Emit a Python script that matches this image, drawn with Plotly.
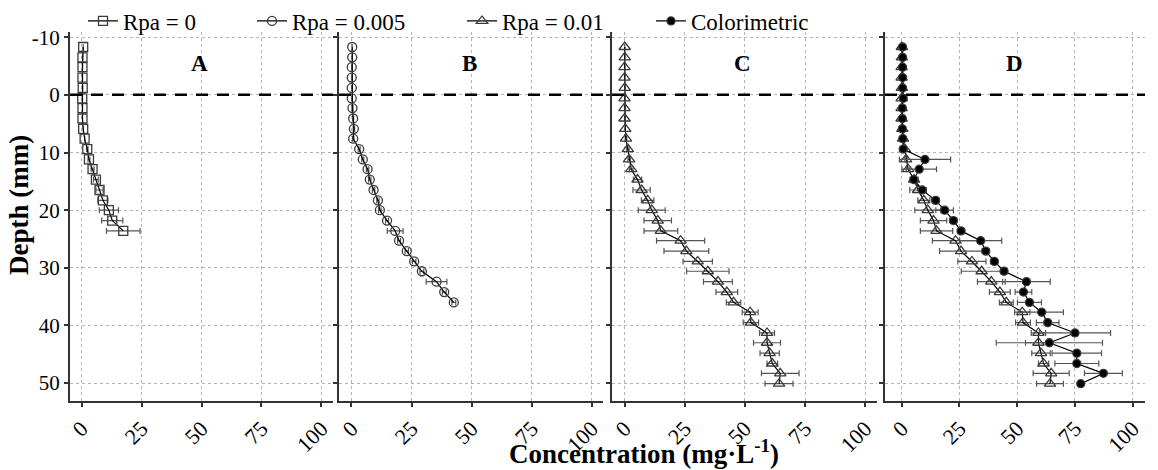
import plotly.graph_objects as go

# ---------------- data ----------------
depth_mm = [-8.3, -6.5, -4.8, -3.0, -1.2, 0.6, 2.3, 4.1, 5.9, 7.6, 9.4, 11.2, 12.9,
            14.7, 16.5, 18.3, 20.0, 21.8, 23.6, 25.3, 27.1, 28.9, 30.6, 32.4, 34.2,
            36.0, 37.7, 39.5, 41.3, 43.0, 44.8, 46.6, 48.3, 50.1]

rpa_0 = [0.7, 0.4, 0.4, 0.4, 0.5, 0.3, 0.4, 0.4, 0.7, 1.3, 2.4, 3.1, 4.6, 6.0, 7.5,
         8.9, 11.4, 12.8, 17.4]
rpa_0_err = [0, 0, 0, 0, 0, 0, 0, 0, 0, 0, 0.3, 0.4, 0.6, 1.0, 1.5, 2.1, 4.0, 4.4, 7.0]

rpa_0005 = [0.3, 0.3, 0.1, 0.1, 0.1, 0.1, 0.4, 0.7, 1.0, 0.7, 3.2, 4.7, 6.7, 7.6, 9.2,
            11.0, 11.8, 14.8, 18.2, 19.8, 23.0, 26.1, 29.3, 35.4, 38.6, 42.6]
rpa_0005_err = [0, 0, 0, 0, 0, 0, 0.2, 0.2, 0.3, 0.3, 0.4, 0.4, 0.5, 0.5, 0.5, 0.5,
                0.5, 0.6, 3.3, 0.6, 0.7, 0.7, 0.8, 4.3, 0.8, 0.8]

rpa_001 = [0.1, 0.1, 0.0, 0.0, 0.1, 0.0, 0.0, 0.0, 0.3, 0.6, 1.4, 1.9, 2.8, 5.4, 7.1,
           9.6, 11.3, 13.8, 15.1, 23.3, 25.7, 30.4, 34.6, 38.8, 42.5, 45.3, 52.2,
           52.5, 59.2, 59.2, 60.3, 61.4, 64.7, 64.2]
rpa_001_err = [0, 0, 0, 0, 0, 0, 0, 0, 0, 0.3, 0.5, 0.5, 0.8, 1.7, 3.6, 2.6, 5.6,
               5.7, 7.0, 10.0, 9.3, 6.1, 8.8, 6.0, 4.5, 3.0, 3.3, 3.2, 3.1, 5.6, 4.0,
               2.2, 7.8, 5.8]

colorimetric = [0.4, 0.4, 0.4, 0.4, 0.4, 0.7, 0.3, 0.3, 0.3, 0.5, 0.7, 10.1, 7.6, 5.3,
                8.9, 14.7, 18.6, 22.4, 25.7, 34.2, 36.4, 40.1, 44.3, 54.0, 52.7, 55.3,
                60.6, 63.2, 75.0, 63.9, 75.8, 75.8, 87.3, 77.5]
colorimetric_err = [0, 0, 0, 0, 0, 0, 0, 0, 0, 0, 0, 11.1, 7.5, 1.0, 1.0, 1.5, 3.8,
                    1.5, 1.5, 9.1, 1.5, 1.5, 1.5, 10.3, 3.6, 5.2, 9.4, 4.9, 15.4,
                    23.0, 10.7, 9.5, 8.2, 0]

panel_labels = ["A", "B", "C", "D"]
x_ticks = [0, 25, 50, 75, 100]
x_tick_text = ["0", "25", "50", "75", "100"]
y_ticks = [-10, 0, 10, 20, 30, 40, 50]
y_tick_text = ["-10", "0", "10", "20", "30", "40", "50"]
surface_depth = 0

# ---------------- style ----------------
FONT = "Liberation Serif"
AX = "#333333"
ERR = "#555555"
MK = "#3a3a3a"

fig = go.Figure()


def add_series(x, err, n_axis, name, symbol, size, fill, legend, showlegend=True):
    suffix = "" if n_axis == 1 else str(n_axis)
    fig.add_trace(go.Scatter(
        x=x, y=depth_mm[:len(x)], name=name, mode="lines+markers",
        xaxis="x" + suffix, yaxis="y" + suffix,
        line=dict(color="black", width=1.2),
        marker=dict(symbol=symbol, size=size, color=fill,
                    line=dict(color=MK, width=1.3)),
        error_x=dict(type="data", array=err, visible=True, color=ERR,
                     thickness=1.2, width=3),
        legend=legend, showlegend=showlegend,
    ))


add_series(rpa_0, rpa_0_err, 1, "Rpa = 0", "square-open", 9, MK, "legend")
add_series(rpa_0005, rpa_0005_err, 2, "Rpa = 0.005", "circle-open", 9, MK, "legend2")
add_series(rpa_001, rpa_001_err, 3, "Rpa = 0.01", "triangle-up-open", 10, MK, "legend3")
add_series(rpa_001, rpa_001_err, 4, "Rpa = 0.01", "triangle-up-open", 10, MK, "legend3",
           showlegend=False)
add_series(colorimetric, colorimetric_err, 4, "Colorimetric", "circle", 8, "black", "legend4")

# ---------------- geometry (page pixels; the page body has an 8px margin) ----------------
OFF = 8
W, H = 1158 - OFF, 470 - OFF
PLOT_L, PLOT_R, PLOT_T, PLOT_B = 70, 1145, 32, 401          # in window pixels
ML, MR, MT, MB = PLOT_L - OFF, 1158 - PLOT_R, PLOT_T - OFF, 470 - PLOT_B
PW = W - ML - MR
PH = H - MT - MB


def px_x(p):   # window px -> paper x
    return (p - PLOT_L) / PW


def px_y(p):   # window px -> paper y
    return (PLOT_B - p) / PH


panel_px = [(70, 333), (339, 603), (612, 877), (885, 1145)]
x_ranges = [[-4.8, 104.8], [-5.2, 104.7], [-5.2, 104.9], [-7.2, 105.3]]
y_range = [53.1, -10.9]

layout = dict(
    width=W, height=H,
    margin=dict(l=ML, r=MR, t=MT, b=MB, autoexpand=False),
    paper_bgcolor="white", plot_bgcolor="white",
    font=dict(family=FONT, size=21, color="black"),
    showlegend=True,
)

for i, (p0, p1) in enumerate(panel_px):
    suffix = "" if i == 0 else str(i + 1)
    layout["xaxis" + suffix] = dict(
        domain=[px_x(p0), px_x(p1)],
        range=x_ranges[i], anchor="y" + suffix, automargin=False,
        tickvals=x_ticks, ticktext=x_tick_text, tickangle=-45,
        tickfont=dict(family=FONT, size=22, color="black"),
        showline=True, linecolor=AX, linewidth=2,
        ticks="outside", ticklen=4, tickcolor=AX, tickwidth=1.5,
        showgrid=True, gridcolor="#b5b5b5", gridwidth=1, griddash="dot",
        zeroline=False,
    )
    layout["yaxis" + suffix] = dict(
        range=y_range, anchor="x" + suffix, domain=[0, 1], automargin=False,
        tickvals=y_ticks, ticktext=y_tick_text, showticklabels=(i == 0),
        tickfont=dict(family=FONT, size=21, color="black"),
        showline=True, linecolor=AX, linewidth=2,
        ticks="outside", ticklen=4, tickcolor=AX, tickwidth=1.5,
        showgrid=True, gridcolor="#b5b5b5", gridwidth=1, griddash="dot",
        zeroline=False,
    )

# legends positioned individually
leg_px = [83, 252, 462, 651]
for j, px in enumerate(leg_px):
    key = "legend" if j == 0 else "legend" + str(j + 1)
    layout[key] = dict(
        x=px_x(px), xanchor="left", y=px_y(21), yanchor="middle",
        orientation="h", bgcolor="rgba(0,0,0,0)",
        font=dict(family=FONT, size=23, color="black"),
        itemwidth=30,
    )

fig.update_layout(**layout)

# panel labels and the sediment surface line
for i, lab in enumerate(panel_labels):
    suffix = "" if i == 0 else str(i + 1)
    fig.add_annotation(x=49, y=-5.4, xref="x" + suffix, yref="y" + suffix,
                       text="<b>%s</b>" % lab, showarrow=False,
                       font=dict(family=FONT, size=23, color="black"))
    fig.add_shape(type="line", xref="x%s domain" % suffix, yref="y" + suffix,
                  x0=0, x1=1, y0=surface_depth, y1=surface_depth,
                  line=dict(color="black", width=2.5, dash="12px,9px"))

fig.add_annotation(x=px_x(644), y=px_y(452), xref="paper", yref="paper",
                   text="<b>Concentration (mg·L<sup>-1</sup>)</b>", showarrow=False,
                   xanchor="center", yanchor="middle",
                   font=dict(family=FONT, size=27, color="black"))
fig.add_annotation(x=px_x(19), y=px_y(205), xref="paper", yref="paper",
                   text="<b>Depth (mm)</b>", showarrow=False, textangle=-90,
                   xanchor="center", yanchor="middle",
                   font=dict(family=FONT, size=27, color="black"))

fig.write_html("out.html")
